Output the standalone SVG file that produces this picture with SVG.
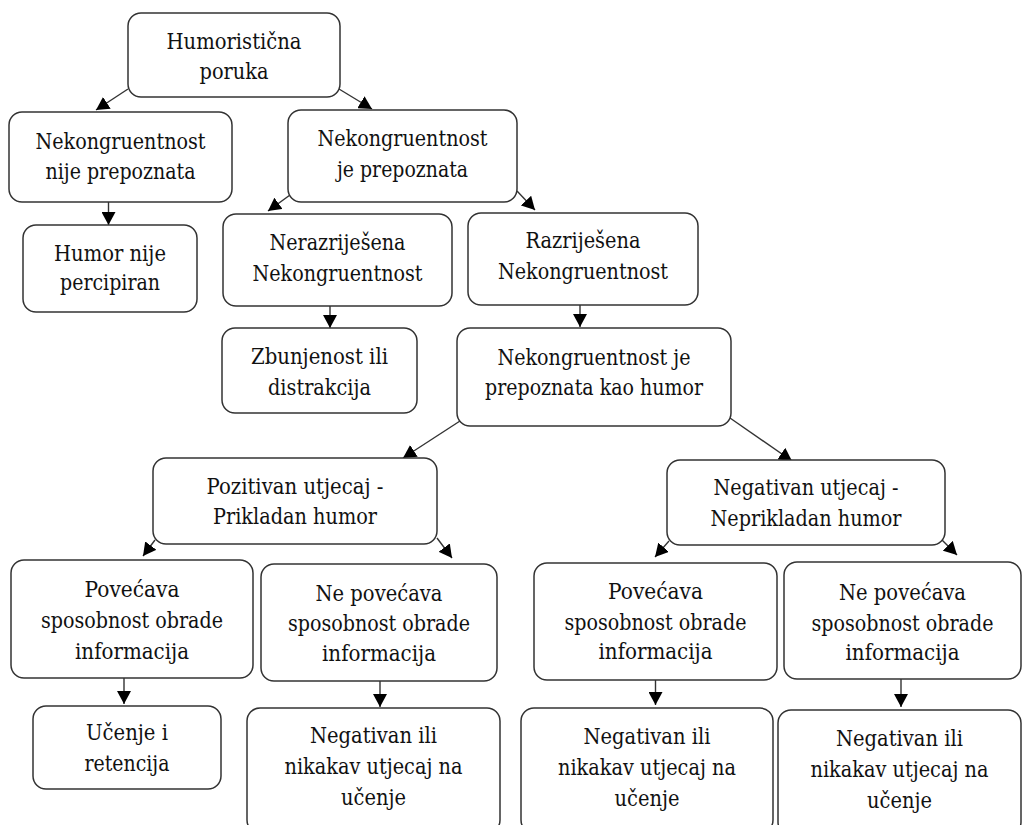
<svg xmlns="http://www.w3.org/2000/svg" width="1022" height="825" viewBox="0 0 1022 825">
<defs>
<marker id="ah" markerUnits="userSpaceOnUse" markerWidth="14" markerHeight="14" refX="13" refY="7" orient="auto">
<path d="M0,0 L13,7 L0,14 z" fill="#000"/>
</marker>
<style>
rect{fill:#fff;stroke:#333;stroke-width:1.5}
text{font-family:'DejaVu Serif','Liberation Serif',serif;font-size:22px;fill:#111;text-anchor:middle}
#connectors line{stroke:#333;stroke-width:1.4;marker-end:url(#ah)}
</style>
</defs>
<rect x="0" y="0" width="1022" height="825" style="fill:#fff;stroke:none"/>
<g id="connectors">
<line x1="128" y1="89" x2="96" y2="110"/>
<line x1="339" y1="89" x2="372" y2="109"/>
<line x1="108.5" y1="202" x2="108.5" y2="225"/>
<line x1="290" y1="195" x2="268" y2="211"/>
<line x1="517" y1="191" x2="535" y2="210"/>
<line x1="330" y1="306" x2="330" y2="328"/>
<line x1="580" y1="305" x2="580" y2="327"/>
<line x1="460" y1="421" x2="403" y2="458"/>
<line x1="730" y1="418" x2="792" y2="461"/>
<line x1="155" y1="540" x2="143" y2="556"/>
<line x1="437" y1="538" x2="452" y2="558"/>
<line x1="669" y1="541" x2="655" y2="557"/>
<line x1="942" y1="540" x2="957" y2="555"/>
<line x1="124" y1="678" x2="124" y2="704"/>
<line x1="380" y1="681" x2="380" y2="707"/>
<line x1="655.5" y1="680" x2="655.5" y2="705"/>
<line x1="901" y1="679" x2="901" y2="707"/>
</g>
<g id="n1"><rect x="128" y="13" width="212" height="84" rx="13"/><text x="234" y="49" textLength="135" lengthAdjust="spacingAndGlyphs">Humoristična</text><text x="234" y="79" textLength="69" lengthAdjust="spacingAndGlyphs">poruka</text></g>
<g id="n2"><rect x="9" y="112" width="223" height="90" rx="13"/><text x="120.5" y="149" textLength="170" lengthAdjust="spacingAndGlyphs">Nekongruentnost</text><text x="120.5" y="179" textLength="150" lengthAdjust="spacingAndGlyphs">nije prepoznata</text></g>
<g id="n3"><rect x="23" y="225" width="174" height="87" rx="13"/><text x="110" y="261" textLength="112" lengthAdjust="spacingAndGlyphs">Humor nije</text><text x="110" y="290" textLength="100" lengthAdjust="spacingAndGlyphs">percipiran</text></g>
<g id="n4"><rect x="288" y="110" width="229" height="92" rx="13"/><text x="402.5" y="146" textLength="170" lengthAdjust="spacingAndGlyphs">Nekongruentnost</text><text x="402.5" y="177" textLength="131" lengthAdjust="spacingAndGlyphs">je prepoznata</text></g>
<g id="n5"><rect x="223" y="214" width="229" height="92" rx="13"/><text x="337.5" y="250" textLength="136" lengthAdjust="spacingAndGlyphs">Nerazriješena</text><text x="337.5" y="281" textLength="170" lengthAdjust="spacingAndGlyphs">Nekongruentnost</text></g>
<g id="n6"><rect x="468" y="213" width="230" height="92" rx="13"/><text x="583" y="248" textLength="115" lengthAdjust="spacingAndGlyphs">Razriješena</text><text x="583" y="279" textLength="170" lengthAdjust="spacingAndGlyphs">Nekongruentnost</text></g>
<g id="n7"><rect x="222" y="328" width="195" height="85" rx="13"/><text x="319.5" y="364" textLength="137" lengthAdjust="spacingAndGlyphs">Zbunjenost ili</text><text x="319.5" y="395" textLength="103" lengthAdjust="spacingAndGlyphs">distrakcija</text></g>
<g id="n8"><rect x="457" y="328" width="274" height="98" rx="13"/><text x="594" y="365" textLength="193" lengthAdjust="spacingAndGlyphs">Nekongruentnost je</text><text x="594" y="395" textLength="218" lengthAdjust="spacingAndGlyphs">prepoznata kao humor</text></g>
<g id="n9"><rect x="153" y="458" width="284" height="86" rx="13"/><text x="295" y="494" textLength="177" lengthAdjust="spacingAndGlyphs">Pozitivan utjecaj -</text><text x="295" y="524" textLength="164" lengthAdjust="spacingAndGlyphs">Prikladan humor</text></g>
<g id="n10"><rect x="667" y="460" width="278" height="85" rx="13"/><text x="806" y="495" textLength="185" lengthAdjust="spacingAndGlyphs">Negativan utjecaj -</text><text x="806" y="526" textLength="191" lengthAdjust="spacingAndGlyphs">Neprikladan humor</text></g>
<g id="n11"><rect x="11" y="560" width="242" height="118" rx="13"/><text x="132" y="597" textLength="95" lengthAdjust="spacingAndGlyphs">Povećava</text><text x="132" y="628" textLength="182" lengthAdjust="spacingAndGlyphs">sposobnost obrade</text><text x="132" y="659" textLength="114" lengthAdjust="spacingAndGlyphs">informacija</text></g>
<g id="n12"><rect x="261" y="564" width="236" height="117" rx="13"/><text x="379" y="601" textLength="127" lengthAdjust="spacingAndGlyphs">Ne povećava</text><text x="379" y="631" textLength="182" lengthAdjust="spacingAndGlyphs">sposobnost obrade</text><text x="379" y="661" textLength="114" lengthAdjust="spacingAndGlyphs">informacija</text></g>
<g id="n13"><rect x="33" y="706" width="188" height="83" rx="13"/><text x="127" y="740" textLength="82" lengthAdjust="spacingAndGlyphs">Učenje i</text><text x="127" y="771" textLength="85" lengthAdjust="spacingAndGlyphs">retencija</text></g>
<g id="n14"><rect x="247" y="708" width="253" height="125" rx="13"/><text x="373.5" y="743" textLength="127" lengthAdjust="spacingAndGlyphs">Negativan ili</text><text x="373.5" y="774" textLength="178" lengthAdjust="spacingAndGlyphs">nikakav utjecaj na</text><text x="373.5" y="805" textLength="65" lengthAdjust="spacingAndGlyphs">učenje</text></g>
<g id="n15"><rect x="534" y="563" width="243" height="117" rx="13"/><text x="655.5" y="599" textLength="95" lengthAdjust="spacingAndGlyphs">Povećava</text><text x="655.5" y="630" textLength="182" lengthAdjust="spacingAndGlyphs">sposobnost obrade</text><text x="655.5" y="659" textLength="114" lengthAdjust="spacingAndGlyphs">informacija</text></g>
<g id="n16"><rect x="784" y="562" width="237" height="117" rx="13"/><text x="902.5" y="600" textLength="127" lengthAdjust="spacingAndGlyphs">Ne povećava</text><text x="902.5" y="631" textLength="182" lengthAdjust="spacingAndGlyphs">sposobnost obrade</text><text x="902.5" y="660" textLength="114" lengthAdjust="spacingAndGlyphs">informacija</text></g>
<g id="n17"><rect x="521" y="708" width="252" height="125" rx="13"/><text x="647" y="744" textLength="127" lengthAdjust="spacingAndGlyphs">Negativan ili</text><text x="647" y="775" textLength="178" lengthAdjust="spacingAndGlyphs">nikakav utjecaj na</text><text x="647" y="806" textLength="65" lengthAdjust="spacingAndGlyphs">učenje</text></g>
<g id="n18"><rect x="778" y="710" width="243" height="125" rx="13"/><text x="899.5" y="746" textLength="127" lengthAdjust="spacingAndGlyphs">Negativan ili</text><text x="899.5" y="777" textLength="178" lengthAdjust="spacingAndGlyphs">nikakav utjecaj na</text><text x="899.5" y="808" textLength="65" lengthAdjust="spacingAndGlyphs">učenje</text></g>
</svg>
